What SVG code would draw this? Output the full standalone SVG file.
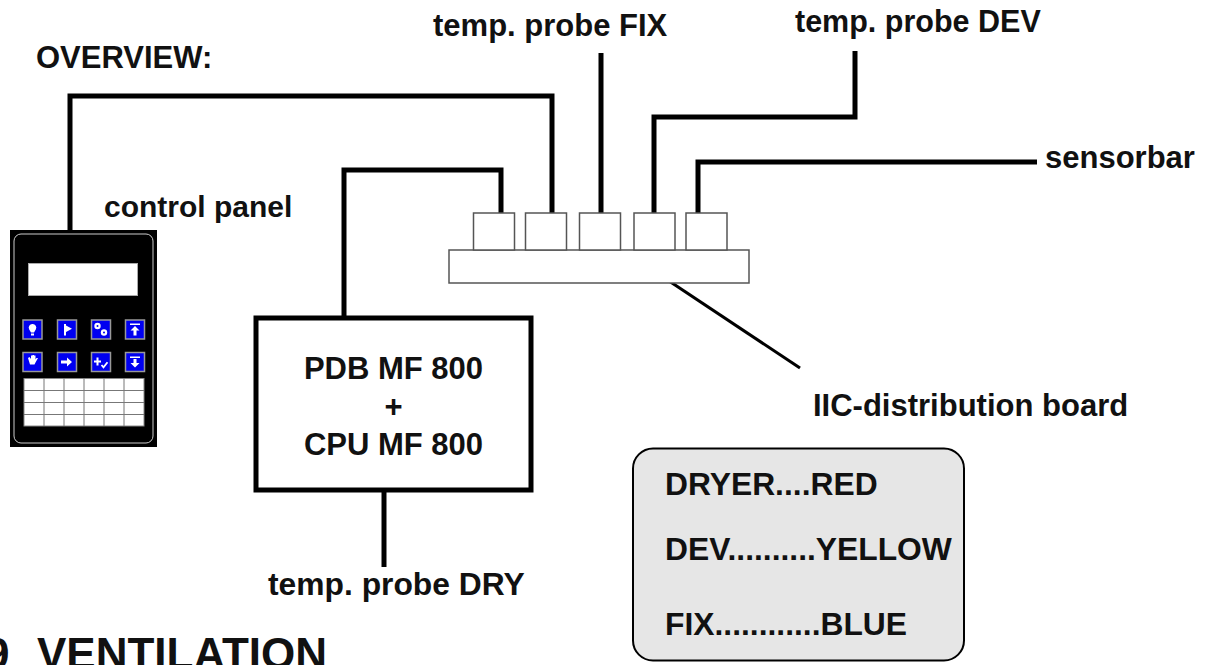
<svg xmlns="http://www.w3.org/2000/svg" width="1217" height="665" viewBox="0 0 1217 665">
  <style>
    text { font-family: "Liberation Sans", Arial, sans-serif; font-weight: bold; fill: #111; }
    .lbl { font-size: 31px; }
    .wire { fill: none; stroke: #000; stroke-width: 5; stroke-linejoin: miter; stroke-linecap: butt; }
    .plug { fill: #fff; stroke: #555; stroke-width: 1.5; }
    .key { fill: #0000f0; stroke: #999; stroke-width: 1.5; }
    .glyph { fill: #fff; stroke: none; }
    .cell { fill: #fff; stroke: #888; stroke-width: 1; }
  </style>

  <rect x="0" y="0" width="1217" height="665" fill="#fff"/>

  <!-- connectors -->
  <g id="connectors">
    <path class="wire" d="M70,231 V96 H552 V213"/>
    <path class="wire" d="M344,318 V170 H501 V213"/>
    <path class="wire" d="M601,53 V213"/>
    <path class="wire" d="M855,51 V117 H654 V213"/>
    <path class="wire" d="M1037,162 H698 V213"/>
    <path class="wire" d="M384,490 V567"/>
    <path d="M645,265 L800,368" fill="none" stroke="#000" stroke-width="3"/>
  </g>

  <text class="lbl" x="36" y="68">OVERVIEW:</text>

  <!-- distribution board with plugs -->
  <g id="distribution-board">
    <rect class="plug" x="449" y="250" width="300" height="33"/>
    <rect class="plug" x="473.5" y="213" width="41" height="37"/>
    <rect class="plug" x="525.5" y="213" width="41" height="37"/>
    <rect class="plug" x="579.5" y="213" width="41" height="37"/>
    <rect class="plug" x="634" y="213" width="41" height="37"/>
    <rect class="plug" x="686" y="213" width="41" height="37"/>
    <text class="lbl" x="813" y="416">IIC-distribution board</text>
  </g>

  <g id="probe-fix">
    <text class="lbl" x="433" y="36">temp. probe FIX</text>
  </g>
  <g id="probe-dev">
    <text x="795" y="32" font-size="30.5">temp. probe DEV</text>
  </g>
  <g id="sensorbar">
    <text class="lbl" x="1045" y="168">sensorbar</text>
  </g>
  <g id="probe-dry">
    <text x="268" y="595" font-size="31.8">temp. probe DRY</text>
  </g>

  <!-- main board -->
  <g id="pdb-cpu">
    <rect x="256" y="318" width="275" height="172" fill="#fff" stroke="#000" stroke-width="5"/>
    <text class="lbl" x="393.5" y="379" text-anchor="middle">PDB MF 800</text>
    <text class="lbl" x="393.5" y="417" text-anchor="middle">+</text>
    <text class="lbl" x="393.5" y="455" text-anchor="middle">CPU MF 800</text>
  </g>

  <!-- operator terminal -->
  <g id="control-panel">
    <text x="104" y="217" font-size="30">control panel</text>
    <rect x="10" y="230" width="147" height="217" fill="#000"/>
    <rect x="14" y="234" width="139" height="209" rx="7" fill="none" stroke="#ccc" stroke-width="1"/>
    <rect x="28.5" y="263.5" width="109" height="32" fill="#fff" stroke="#aaa" stroke-width="1"/>

    <!-- function keys -->
    <rect class="key" x="23" y="320" width="19" height="19"/>
    <rect class="key" x="57.5" y="320" width="19" height="19"/>
    <rect class="key" x="91.5" y="320" width="19" height="19"/>
    <rect class="key" x="125.5" y="320" width="19" height="19"/>
    <rect class="key" x="23" y="352.5" width="19" height="19"/>
    <rect class="key" x="57.5" y="352.5" width="19" height="19"/>
    <rect class="key" x="91.5" y="352.5" width="19" height="19"/>
    <rect class="key" x="125.5" y="352.5" width="19" height="19"/>

    <!-- key symbols -->
    <path class="glyph" d="M32.5,324 a3.6,3.6 0 0 1 3.3,5.4 l-1.8,3 h-3 l-1.8,-3 a3.6,3.6 0 0 1 3.3,-5.4 z M31,333.5 h3 v2 h-3 z"/>
    <path class="glyph" d="M64,324 h2 v1.5 l6,3.3 l-6,3.3 v3.4 h-2 z"/>
    <circle class="glyph" cx="97.5" cy="326" r="3.2"/>
    <circle cx="97.5" cy="326" r="1" fill="#0000f0"/>
    <circle class="glyph" cx="104" cy="332.5" r="3.2"/>
    <circle cx="104" cy="332.5" r="1" fill="#0000f0"/>
    <path class="glyph" d="M130,323.5 h10 v1.5 h-10 z M135,326 l4.5,4.5 h-3 v5 h-3 v-5 h-3 z"/>
    <path class="glyph" d="M28,358 l1.5,-1 l1.5,2 v-3.5 h1.5 v3 v-3.5 h1.5 v3.5 v-3 h1.5 v4 l1,-1.5 h1.5 l-2.5,4.5 l-1,2 h-4.5 z"/>
    <path class="glyph" d="M61,360.5 h6 v-3 l5,4.5 l-5,4.5 v-3 h-6 z"/>
    <path class="glyph" d="M94,360.5 h2.5 v-3 h2 v3 h2.5 v2 h-2.5 v3 h-2 v-3 h-2.5 z"/>
    <path d="M101.5,365 l2,2.3 l4,-5" fill="none" stroke="#fff" stroke-width="1.8"/>
    <path class="glyph" d="M130,356.5 h10 v1.5 h-10 z M133.5,359 h3 v4 h3 l-4.5,4.5 l-4.5,-4.5 h3 z"/>

    <!-- keypad -->
    <g>
      <rect class="cell" x="24" y="378.5" width="120" height="47.5"/>
      <path d="M44,378.5 V426 M64,378.5 V426 M84,378.5 V426 M104,378.5 V426 M124,378.5 V426 M24,390.5 H144 M24,402.5 H144 M24,414.5 H144" stroke="#777" stroke-width="1" fill="none"/>
    </g>
  </g>

  <!-- colour legend -->
  <g id="legend">
    <rect x="633" y="448.5" width="331" height="212" rx="20" fill="#e6e6e6" stroke="#000" stroke-width="2"/>
    <text x="665" y="495" font-size="31.8">DRYER....RED</text>
    <text x="665" y="560" font-size="31.8">DEV..........YELLOW</text>
    <text x="665" y="635" font-size="31.8">FIX............BLUE</text>
  </g>

  <!-- section heading -->
  <text x="0" y="669" font-size="44"><tspan x="-15">9</tspan><tspan x="37">VENTILATION</tspan></text>
</svg>
